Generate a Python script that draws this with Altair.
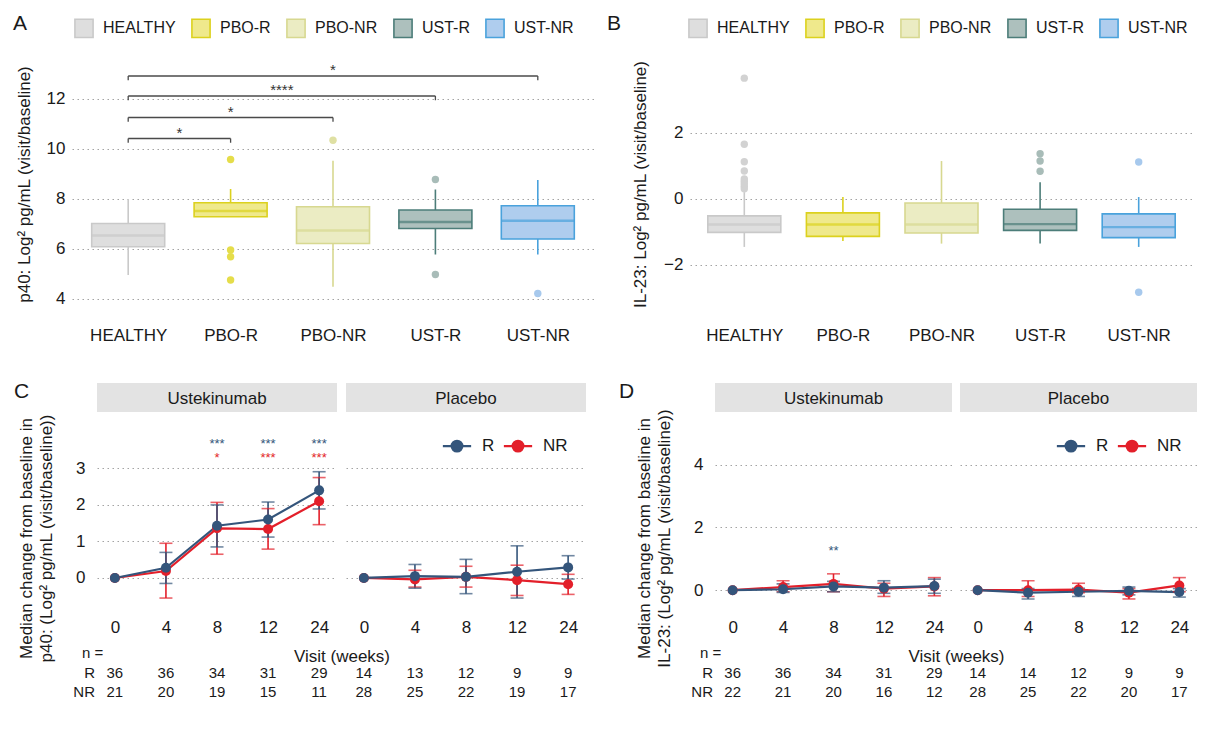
import json
import altair as alt
import pandas as pd

FONT = "Liberation Sans"
TXT = "#1a1a1a"
GRID = "#a3a3a3"

# ---------------- Panels A and B (box plots) ----------------
groups = ["HEALTHY", "PBO-R", "PBO-NR", "UST-R", "UST-NR"]
box_fill = ["#dedede", "#efe98c", "#ebecc3", "#adc0bd", "#afcdee"]
box_line = ["#c9c9c9", "#dcd11e", "#d7d890", "#4c7d79", "#4aa2dc"]
out_colour = ["#d2d2d2", "#e5dd4a", "#dfe0a3", "#a8bcb8", "#a7c9ed"]

a_q1 = [6.07, 7.27, 6.20, 6.80, 6.38]
a_med = [6.52, 7.50, 6.72, 7.06, 7.11]
a_q3 = [7.00, 7.83, 7.67, 7.54, 7.71]
a_low = [4.94, 7.27, 4.47, 5.76, 5.76]
a_high = [7.98, 8.38, 9.51, 8.36, 8.74]
a_out_group = ["PBO-R", "PBO-R", "PBO-R", "PBO-R", "PBO-NR", "UST-R", "UST-R", "UST-NR"]
a_out_value = [9.56, 5.94, 5.67, 4.74, 10.33, 8.76, 4.96, 4.20]
a_sig_group = ["PBO-R", "PBO-NR", "UST-R", "UST-NR"]
a_sig_y = [10.40, 11.24, 12.10, 12.90]
a_sig_label = ["*", "*", "****", "*"]

b_q1 = [-1.02, -1.14, -1.04, -0.96, -1.18]
b_med = [-0.78, -0.78, -0.78, -0.77, -0.86]
b_q3 = [-0.52, -0.43, -0.13, -0.32, -0.46]
b_low = [-1.46, -1.28, -1.36, -1.36, -1.46]
b_high = [0.20, 0.05, 1.14, 0.50, 0.05]
b_out_group = ["HEALTHY"] * 9 + ["UST-R"] * 3 + ["UST-NR"] * 2
b_out_value = [0.30, 0.38, 0.45, 0.52, 0.60, 0.84, 1.12, 1.65, 3.65,
               0.83, 1.14, 1.36, 1.11, -2.83]

# ---------------- Panels C and D (median change over visits) ----------------
visits = ["0", "4", "8", "12", "24"]

c_ust_r = [0, 0.28, 1.43, 1.60, 2.40]
c_ust_r_lo = [0, -0.15, 0.85, 1.12, 1.89]
c_ust_r_hi = [0, 0.70, 2.00, 2.08, 2.91]
c_ust_nr = [0, 0.19, 1.36, 1.34, 2.10]
c_ust_nr_lo = [0, -0.55, 0.65, 0.79, 1.46]
c_ust_nr_hi = [0, 0.95, 2.07, 1.90, 2.75]
c_pbo_r = [0, 0.05, 0.03, 0.17, 0.29]
c_pbo_r_lo = [0, -0.28, -0.43, -0.55, -0.03]
c_pbo_r_hi = [0, 0.37, 0.51, 0.88, 0.61]
c_pbo_nr = [0, -0.04, 0.03, -0.06, -0.17]
c_pbo_nr_lo = [0, -0.25, -0.25, -0.48, -0.45]
c_pbo_nr_hi = [0, 0.21, 0.32, 0.35, 0.10]
c_star_r = ["", "", "***", "***", "***"]
c_star_r_y = [3.75, 3.75, 3.75, 3.75, 3.75]
c_star_nr = ["", "", "*", "***", "***"]
c_star_nr_y = [3.38, 3.38, 3.38, 3.38, 3.38]
c_n_ust_r = [36, 36, 34, 31, 29]
c_n_ust_nr = [21, 20, 19, 15, 11]
c_n_pbo_r = [14, 13, 12, 9, 9]
c_n_pbo_nr = [28, 25, 22, 19, 17]

d_ust_r = [0, 0.03, 0.12, 0.08, 0.13]
d_ust_r_lo = [0, -0.07, -0.05, -0.10, -0.10]
d_ust_r_hi = [0, 0.20, 0.28, 0.30, 0.35]
d_ust_nr = [0, 0.10, 0.20, 0.05, 0.12]
d_ust_nr_lo = [0, -0.05, -0.05, -0.20, -0.18]
d_ust_nr_hi = [0, 0.30, 0.52, 0.22, 0.40]
d_pbo_r = [0, -0.08, -0.05, -0.02, -0.06]
d_pbo_r_lo = [0, -0.28, -0.20, -0.15, -0.22]
d_pbo_r_hi = [0, 0.05, 0.06, 0.10, 0.05]
d_pbo_nr = [0, 0.00, 0.02, -0.08, 0.15]
d_pbo_nr_lo = [0, -0.20, -0.08, -0.28, -0.05]
d_pbo_nr_hi = [0, 0.30, 0.22, 0.05, 0.40]
d_star_r = ["", "", "**", "", ""]
d_star_r_y = [1.33, 1.33, 1.33, 1.33, 1.33]
d_n_ust_r = [36, 36, 34, 31, 29]
d_n_ust_nr = [22, 21, 20, 16, 12]
d_n_pbo_r = [14, 14, 12, 9, 9]
d_n_pbo_nr = [28, 25, 22, 20, 17]

R_COL = "#34557b"
NR_COL = "#e31f2a"
LABEL_EXPR = json.dumps(groups) + "[datum.value]"
PANEL_H = 254


def letter_layer(letter, x, y):
    return alt.Chart(pd.DataFrame({"t": [letter]})).mark_text(
        fontSize=21, font=FONT, color=TXT, align="left",
        baseline="alphabetic").encode(
        x=alt.value(x), y=alt.value(y), text="t:N")


# ---------------- builders ----------------
def box_panel(q1, med, q3, low, high, og, ov, sig, dom, yticks, ytitle,
              letters, width, legend_x, title_x):
    stats = pd.DataFrame({"group": groups, "pos": list(range(5)), "q1": q1,
                          "med": med, "q3": q3, "lo": low, "hi": high,
                          "line": box_line})
    outl = pd.DataFrame({"group": og, "value": ov})
    outl["pos"] = [groups.index(g) for g in og]
    outl["colour"] = [out_colour[groups.index(g)] for g in og]

    xs = alt.Scale(domain=[-0.5, 4.5], nice=False, zero=False)
    xa = alt.Axis(values=list(range(5)), labelExpr=LABEL_EXPR, title=None,
                  grid=False, ticks=False, tickSize=0, domain=False,
                  labelFontSize=17, labelFont=FONT, labelColor=TXT,
                  labelPadding=16, labelFlush=False)
    ys = alt.Scale(domain=dom, nice=False, zero=False)
    ya = alt.Axis(values=yticks, title=ytitle, grid=True, gridDash=[1.5, 3.5],
                  gridColor=GRID, gridWidth=1.1, ticks=False, tickSize=0,
                  domain=False, labelFontSize=17, labelFont=FONT,
                  labelColor=TXT, labelPadding=7, titleFontSize=17,
                  titleFont=FONT, titleFontWeight="normal", titleColor=TXT,
                  titleX=title_x, titleY=PANEL_H / 2, titleAngle=270,
                  titleAlign="center", titleBaseline="bottom")

    def X(f):
        return alt.X(f, type="quantitative", scale=xs, axis=xa)

    def Y(f):
        return alt.Y(f, type="quantitative", scale=ys, axis=ya)

    leg = alt.Legend(orient="none", legendX=legend_x, legendY=-39,
                     direction="horizontal", title=None,
                     symbolType="square", symbolSize=330,
                     symbolStrokeWidth=1.6, labelFontSize=16, labelFont=FONT,
                     labelColor=TXT, columnPadding=12, labelOffset=9,
                     padding=0)

    base = alt.Chart(stats)
    layers = [
        base.mark_rule(strokeWidth=1.6).encode(
            x=X("pos"), y=Y("lo"), y2="q1",
            color=alt.Color("line:N", scale=None)),
        base.mark_rule(strokeWidth=1.6).encode(
            x=X("pos"), y=Y("q3"), y2="hi",
            color=alt.Color("line:N", scale=None)),
        base.mark_bar(width=73, strokeWidth=1.6).encode(
            x=X("pos"), y=Y("q1"), y2="q3",
            fill=alt.Fill("group:N", scale=alt.Scale(domain=groups, range=box_fill), legend=leg),
            stroke=alt.Stroke("group:N", scale=alt.Scale(domain=groups, range=box_line), legend=leg)),
        base.mark_tick(orient="horizontal", size=73, thickness=2.4).encode(
            x=X("pos"), y=Y("med"), color=alt.Color("line:N", scale=None)),
        alt.Chart(outl).mark_circle(size=55, opacity=1).encode(
            x=X("pos"), y=Y("value"), color=alt.Color("colour:N", scale=None)),
    ]
    for (lt, lx, ly) in letters:
        layers.append(letter_layer(lt, lx, ly))
    if sig is not None:
        sg, sy, sl = sig
        sdf = pd.DataFrame({"x1": [0] * len(sg), "x2": [groups.index(g) for g in sg],
                            "yb": sy, "lab": sl})
        sb = alt.Chart(sdf).transform_calculate(
            ybt="datum.yb - 0.17", xm="(datum.x1 + datum.x2) / 2")
        layers += [
            sb.mark_rule(color="#4a4a4a", strokeWidth=1.3).encode(
                x=X("x1"), x2="x2", y=Y("yb")),
            sb.mark_rule(color="#4a4a4a", strokeWidth=1.3).encode(
                x=X("x1"), y=Y("yb"), y2="ybt"),
            sb.mark_rule(color="#4a4a4a", strokeWidth=1.3).encode(
                x=X("x2"), y=Y("yb"), y2="ybt"),
            sb.mark_text(fontSize=15, font=FONT, color="#333333",
                         baseline="bottom", dy=2).encode(
                x=X("xm"), y=Y("yb"), text="lab:N"),
        ]
    return alt.layer(*layers).properties(width=width, height=PANEL_H)


STRIP_H = 29
PH = 197 + STRIP_H
SYMBOL = "M-1.45,0L1.45,0M0.55,0A0.55,0.55,0,1,1,-0.55,0A0.55,0.55,0,1,1,0.55,0Z"


def line_panel(label, r, r_lo, r_hi, nr, nr_lo, nr_hi, n_r, n_nr, dom, yticks,
               pw, stars=None, ytitle=None, legend=False, first=False,
               gap=9, letters=()):
    rows = []
    for grp, med, lo, hi, col in [("NR", nr, nr_lo, nr_hi, NR_COL),
                                  ("R", r, r_lo, r_hi, R_COL)]:
        for v, m, l, h in zip(visits, med, lo, hi):
            rows.append(dict(visit=v, group=grp, med=m, lo=l, hi=h, col=col))
    df = pd.DataFrame(rows)

    xs = alt.Scale(type="point", domain=visits, padding=0.35)
    if first:
        xa = alt.Axis(title="Visit (weeks)", labelAngle=0, grid=False,
                      ticks=False, tickSize=0, domain=False, labelFontSize=17,
                      labelFont=FONT, labelColor=TXT, labelPadding=10,
                      titleFontSize=17, titleFont=FONT,
                      titleFontWeight="normal", titleColor=TXT,
                      titleX=pw + gap / 2, titleY=47, titleAlign="center",
                      titleBaseline="middle")
    else:
        xa = alt.Axis(title=None, labelAngle=0, grid=False, ticks=False,
                      tickSize=0, domain=False, labelFontSize=17,
                      labelFont=FONT, labelColor=TXT, labelPadding=10)
    ys = alt.Scale(domain=dom, nice=False, zero=False)
    if first:
        ya = alt.Axis(values=yticks, title=ytitle, grid=True,
                      gridDash=[1.5, 3.5], gridColor=GRID, gridWidth=1.1,
                      ticks=False, tickSize=0, domain=False, labelFontSize=17,
                      labelFont=FONT, labelColor=TXT, labelPadding=12,
                      titleFontSize=17, titleFont=FONT,
                      titleFontWeight="normal", titleColor=TXT,
                      titlePadding=20, titleLineHeight=20, titleY=155)
    else:
        ya = alt.Axis(values=yticks, title=None, labels=False, grid=True,
                      gridDash=[1.5, 3.5], gridColor=GRID, gridWidth=1.1,
                      ticks=False, tickSize=0, domain=False)

    def X(f):
        return alt.X(f, type="ordinal", scale=xs, axis=xa)

    def Y(f):
        return alt.Y(f, type="quantitative", scale=ys, axis=ya)

    if legend:
        leg = alt.Legend(orient="none", legendX=100, legendY=52,
                         direction="horizontal", title=None,
                         symbolType=SYMBOL, symbolSize=380,
                         symbolStrokeWidth=2.2, labelFontSize=17,
                         labelFont=FONT, labelColor=TXT, labelOffset=14,
                         columnPadding=4)
    else:
        leg = None
    cscale = alt.Scale(domain=["R", "NR"], range=[R_COL, NR_COL])

    strip_df = pd.DataFrame({"label": [label]})
    layers = [
        alt.Chart(strip_df).mark_rect(color="#e3e3e3").encode(
            x=alt.value(0), x2=alt.value(pw), y=alt.value(0),
            y2=alt.value(STRIP_H)),
        alt.Chart(strip_df).mark_text(fontSize=17, font=FONT, color=TXT).encode(
            x=alt.value(pw / 2), y=alt.value(STRIP_H / 2 + 1), text="label:N"),
        alt.Chart(df).mark_line(strokeWidth=2.2).encode(
            x=X("visit"), y=Y("med"),
            stroke=alt.Stroke("group:N", scale=cscale, legend=leg)),
    ]
    eb = alt.Chart(df).transform_filter("datum.hi > datum.lo")
    layers += [
        eb.mark_rule(strokeWidth=1.6).encode(
            x=X("visit"), y=Y("lo"), y2="hi",
            color=alt.Color("col:N", scale=None)),
        eb.mark_tick(orient="horizontal", size=13, thickness=1.6).encode(
            x=X("visit"), y=Y("lo"), color=alt.Color("col:N", scale=None)),
        eb.mark_tick(orient="horizontal", size=13, thickness=1.6).encode(
            x=X("visit"), y=Y("hi"), color=alt.Color("col:N", scale=None)),
        alt.Chart(df).mark_circle(size=100, opacity=1).encode(
            x=X("visit"), y=Y("med"),
            fill=alt.Fill("group:N", scale=cscale, legend=leg)),
    ]
    if stars is not None:
        srows = []
        for labs, ysv, col in stars:
            for v, lab, yv in zip(visits, labs, ysv):
                if lab:
                    srows.append(dict(visit=v, lab=lab, sy=yv, col=col))
        sdf = pd.DataFrame(srows)
        layers.append(
            alt.Chart(sdf).mark_text(fontSize=13, font=FONT, dy=3).encode(
                x=X("visit"), y=Y("sy"), text="lab:N",
                color=alt.Color("col:N", scale=None)))
    ndf = pd.DataFrame({"visit": visits, "nr": [str(v) for v in n_r],
                        "nnr": [str(v) for v in n_nr]})
    layers += [
        alt.Chart(ndf).mark_text(fontSize=15, font=FONT, color=TXT).encode(
            x=X("visit"), y=alt.value(PH + 64), text="nr:N"),
        alt.Chart(ndf).mark_text(fontSize=15, font=FONT, color=TXT).encode(
            x=X("visit"), y=alt.value(PH + 83), text="nnr:N"),
    ]
    if first:
        rl = pd.DataFrame({"t": ["n =", "R", "NR"]})
        layers += [
            alt.Chart(rl).transform_filter("datum.t == 'n ='").mark_text(
                fontSize=15, font=FONT, color=TXT, align="left").encode(
                x=alt.value(-15), y=alt.value(PH + 44), text="t:N"),
            alt.Chart(rl).transform_filter("datum.t == 'R'").mark_text(
                fontSize=15, font=FONT, color=TXT, align="right").encode(
                x=alt.value(-2), y=alt.value(PH + 64), text="t:N"),
            alt.Chart(rl).transform_filter("datum.t == 'NR'").mark_text(
                fontSize=15, font=FONT, color=TXT, align="right").encode(
                x=alt.value(-2), y=alt.value(PH + 83), text="t:N"),
        ]
    for (lt, lx, ly) in letters:
        layers.append(letter_layer(lt, lx, ly))
    return alt.layer(*layers).properties(width=pw, height=PH)


# ---------------- assemble ----------------
panel_a = box_panel(a_q1, a_med, a_q3, a_low, a_high, a_out_group, a_out_value,
                    (a_sig_group, a_sig_y, a_sig_label), [3.5, 13.66],
                    [4, 6, 8, 10, 12], "p40: Log² pg/mL (visit/baseline)",
                    [("A", -59, -27), ("B", 535, -27)], 522, 2, -39)
panel_b = box_panel(b_q1, b_med, b_q3, b_low, b_high, b_out_group, b_out_value,
                    None, [-3.4, 4.29], [-2, 0, 2],
                    "IL-23: Log² pg/mL (visit/baseline)", [], 503, -2, -41)
row1 = alt.concat(panel_a, panel_b, columns=2, spacing=8,
                  align="none").resolve_scale(
    fill="independent", stroke="independent")

c_title = ["Median change from baseline in", "p40: (Log² pg/mL (visit/baseline))"]
d_title = ["Median change from baseline in", "IL-23: (Log² pg/mL (visit/baseline))"]

c_ust = line_panel("Ustekinumab", c_ust_r, c_ust_r_lo, c_ust_r_hi, c_ust_nr,
                   c_ust_nr_lo, c_ust_nr_hi, c_n_ust_r, c_n_ust_nr,
                   [-0.85, 5.34], [0, 1, 2, 3], 240,
                   stars=[(c_star_r, c_star_r_y, R_COL),
                          (c_star_nr, c_star_nr_y, NR_COL)],
                   ytitle=c_title, first=True, gap=9,
                   letters=[("C", -83, 15)])
c_pbo = line_panel("Placebo", c_pbo_r, c_pbo_r_lo, c_pbo_r_hi, c_pbo_nr,
                   c_pbo_nr_lo, c_pbo_nr_hi, c_n_pbo_r, c_n_pbo_nr,
                   [-0.85, 5.34], [0, 1, 2, 3], 240, legend=True,
                   letters=[("D", 273, 15)])
d_ust = line_panel("Ustekinumab", d_ust_r, d_ust_r_lo, d_ust_r_hi, d_ust_nr,
                   d_ust_nr_lo, d_ust_nr_hi, d_n_ust_r, d_n_ust_nr,
                   [-0.6, 6.6], [0, 2, 4], 237,
                   stars=[(d_star_r, d_star_r_y, R_COL)],
                   ytitle=d_title, first=True, gap=8)
d_pbo = line_panel("Placebo", d_pbo_r, d_pbo_r_lo, d_pbo_r_hi, d_pbo_nr,
                   d_pbo_nr_lo, d_pbo_nr_hi, d_n_pbo_r, d_n_pbo_nr,
                   [-0.6, 6.6], [0, 2, 4], 237, legend=True)

# invisible lead-in so the lower row's layout origin sits left of panel C
spacer = alt.Chart(pd.DataFrame({"v": [0]})).mark_point(opacity=0).encode(
    x=alt.value(0), y=alt.value(0)).properties(width=16, height=PH)

c_block = alt.hconcat(spacer, c_ust, c_pbo, spacing=9,
                      bounds="flush").resolve_scale(
    fill="independent", stroke="independent")
d_block = alt.hconcat(d_ust, d_pbo, spacing=8, bounds="flush").resolve_scale(
    fill="independent", stroke="independent")
row2 = alt.concat(c_block, d_block, columns=2, spacing=0,
                  align="none").resolve_scale(
    fill="independent", stroke="independent")

chart = alt.concat(row1, row2, columns=1, spacing=37, align="none").resolve_scale(
    fill="independent", stroke="independent"
).properties(
    padding={"left": 5, "top": 5, "right": 0, "bottom": 5}
).configure_view(stroke=None)

chart.save("out.html", embed_options={"renderer": "svg", "actions": False})
